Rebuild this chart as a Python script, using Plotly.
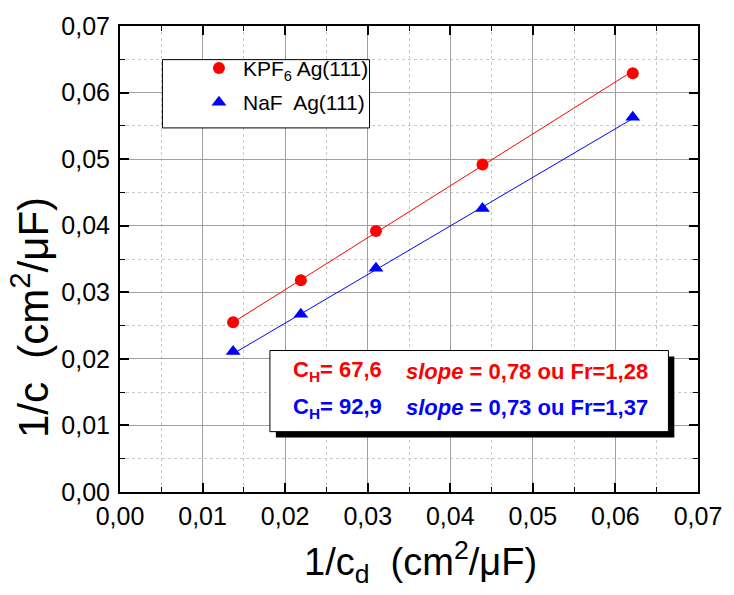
import plotly.graph_objects as go

# Measured inverse capacitances (cm^2/uF)
inv_cd = [0.0137, 0.0219, 0.0310, 0.0439, 0.0621]
inv_c_kpf6 = [0.0255, 0.0318, 0.0392, 0.0492, 0.0629]
inv_c_naf = [0.0211, 0.0267, 0.0336, 0.0426, 0.0563]

# Fit results (Parsons-Zobel): 1/c = 1/C_H + slope * 1/c_d
ch_kpf6, slope_kpf6, fr_kpf6 = 67.6, 0.78, 1.28
ch_naf, slope_naf, fr_naf = 92.9, 0.73, 1.37

tick_vals = [0.00, 0.01, 0.02, 0.03, 0.04, 0.05, 0.06, 0.07]
tick_text = ["0,00", "0,01", "0,02", "0,03", "0,04", "0,05", "0,06", "0,07"]

RED = "#ff0000"
BLUE = "#0000ff"
FONT = "Liberation Sans, Arial, sans-serif"

x_fit = [inv_cd[0], inv_cd[-1]]
fit_kpf6 = [1 / ch_kpf6 + slope_kpf6 * x for x in x_fit]
fit_naf = [1 / ch_naf + slope_naf * x for x in x_fit]

fig = go.Figure()
fig.add_trace(go.Scatter(x=x_fit, y=fit_kpf6, mode="lines",
                         line=dict(color=RED, width=1), showlegend=False))
fig.add_trace(go.Scatter(x=x_fit, y=fit_naf, mode="lines",
                         line=dict(color=BLUE, width=1), showlegend=False))
fig.add_trace(go.Scatter(x=inv_cd, y=inv_c_kpf6, mode="markers",
                         name="KPF<sub>6</sub> Ag(111)", legendgroup="a",
                         marker=dict(symbol="circle", size=12, color=RED)))
fig.add_trace(go.Scatter(x=inv_cd, y=inv_c_naf, mode="markers",
                         name="NaF  Ag(111)", legendgroup="b",
                         marker=dict(symbol="triangle-up", size=13, color=BLUE)))

axis_common = dict(
    range=[0, 0.07], tickvals=tick_vals, ticktext=tick_text,
    showline=True, linecolor="black", linewidth=2, mirror="ticks",
    ticks="inside", ticklen=9, tickwidth=1.5, tickcolor="black",
    showgrid=True, gridcolor="#a0a0a0", gridwidth=1,
    zeroline=False,
    tickfont=dict(family=FONT, size=25, color="black"),
    minor=dict(dtick=0.005, ticks="inside", ticklen=5, tickwidth=1,
               tickcolor="black", showgrid=True, gridcolor="#c8c8c8",
               griddash="dot", gridwidth=1),
)

fig.update_xaxes(**axis_common, ticklabelstandoff=1)
fig.update_yaxes(**axis_common, ticklabelstandoff=3)


def px_x(p):
    return (p - 120) / 586


def px_y(p):
    return (492 - p) / 471


# Legend frame
fig.add_shape(type="rect", xref="paper", yref="paper",
              x0=px_x(163), x1=px_x(373), y0=px_y(124), y1=px_y(55),
              line=dict(color="black", width=1), fillcolor="white", layer="above")

# Fit-results box with drop shadow
bx0, bx1, by0, by1 = 272, 676, 349, 431
sh = 6
fig.add_shape(type="rect", xref="paper", yref="paper",
              x0=px_x(bx0 + sh), x1=px_x(bx1 + sh),
              y0=px_y(by1 + sh), y1=px_y(by0 + sh),
              line=dict(width=0), fillcolor="black", layer="above")
fig.add_shape(type="rect", xref="paper", yref="paper",
              x0=px_x(bx0), x1=px_x(bx1), y0=px_y(by1), y1=px_y(by0),
              line=dict(color="black", width=1), fillcolor="white", layer="above")

lines = [
    (ch_kpf6, slope_kpf6, fr_kpf6, RED, 370),
    (ch_naf, slope_naf, fr_naf, BLUE, 407),
]
for ch, sl, fr, col, ypx in lines:
    fig.add_annotation(xref="paper", yref="paper", x=px_x(293), y=px_y(ypx),
                       xanchor="left", yanchor="middle", showarrow=False,
                       text=f"<b>C<sub>H</sub>= {ch:.1f}</b>".replace(".", ","),
                       font=dict(family=FONT, size=22, color=col))
    fig.add_annotation(xref="paper", yref="paper", x=px_x(408), y=px_y(ypx),
                       xanchor="left", yanchor="middle", showarrow=False,
                       text=(f"<b><i>slope</i> = {sl:.2f} ou Fr={fr:.2f}</b>").replace(".", ","),
                       font=dict(family=FONT, size=22, color=col))

# Axis titles
fig.add_annotation(xref="paper", yref="paper", x=px_x(425), y=px_y(563),
                   xanchor="center", yanchor="middle", showarrow=False,
                   text="1/c<sub>d</sub>  (cm<sup>2</sup>/μF)",
                   font=dict(family=FONT, size=38, color="black"))
fig.add_annotation(xref="paper", yref="paper", x=px_x(29), y=px_y(316),
                   xanchor="center", yanchor="middle", showarrow=False, textangle=-90,
                   text="1/c  (cm<sup>2</sup>/μF)",
                   font=dict(family=FONT, size=42, color="black"))

fig.update_layout(
    width=734, height=595,
    margin=dict(l=120, r=28, t=21, b=103),
    paper_bgcolor="white", plot_bgcolor="white",
    showlegend=True,
    legend=dict(x=px_x(196), y=px_y(43), xanchor="left", yanchor="top",
                bgcolor="rgba(0,0,0,0)", borderwidth=0, tracegroupgap=4,
                itemwidth=38,
                font=dict(family=FONT, size=21, color="black")),
)

fig.write_html("out.html")
